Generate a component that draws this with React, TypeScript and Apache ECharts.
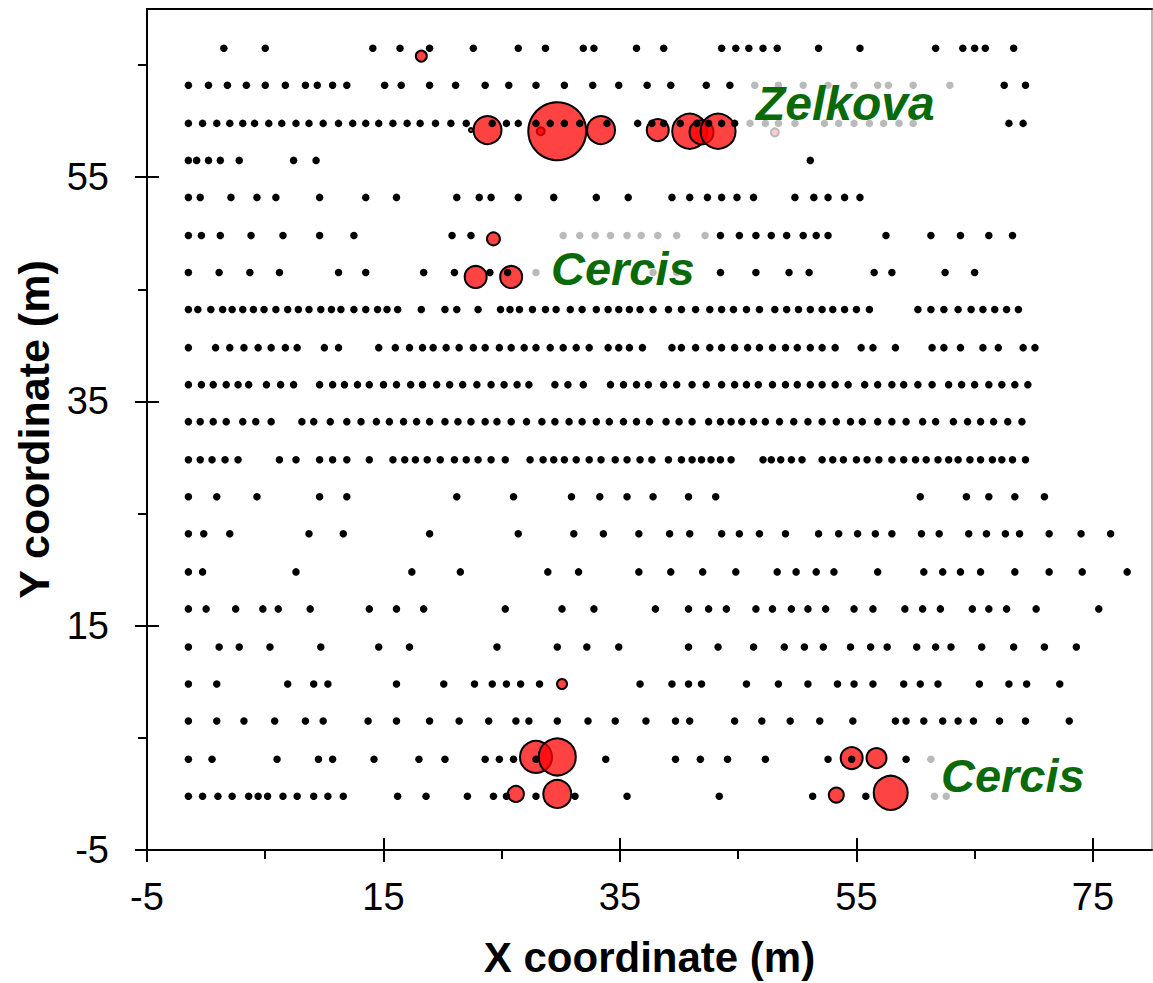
import React, { useEffect, useRef } from "react";
import * as echarts from "echarts";

// Stem map: row positions (m) and the x positions (m) of every stem in each row
const ROW_Y = [66.5, 63.2, 59.8, 56.5, 53.2, 49.8, 46.5, 43.2, 39.8, 36.5, 33.2, 29.8, 26.5, 23.2, 19.8, 16.5, 13.1, 9.8, 6.5, 3.1, -0.2];

const ROW_X: number[][] = [
  [1.5, 5.0, 14.1, 16.4, 18.9, 22.6, 26.4, 28.7, 31.9, 32.8, 36.4, 38.7, 43.6, 44.8, 45.9, 47.1, 48.3, 51.8, 55.3, 61.7, 64.0, 65.0, 65.9, 68.3],
  [-1.5, 0.2, 1.8, 3.4, 5.0, 6.7, 8.4, 9.4, 10.7, 11.9, 15.1, 16.5, 18.9, 21.1, 23.6, 25.6, 27.9, 30.3, 32.7, 34.9, 37.3, 39.3, 42.3, 44.3, 46.4, 48.4, 50.5, 52.6, 54.8, 56.8, 57.7, 59.8, 62.9, 67.5, 69.3],
  [-1.5, -0.3, 0.9, 2.0, 3.1, 4.1, 5.3, 6.4, 7.6, 8.7, 9.9, 11.2, 12.4, 13.5, 14.6, 15.8, 17.0, 18.1, 19.4, 20.7, 22.0, 24.2, 25.4, 26.4, 27.9, 29.1, 30.3, 31.6, 33.9, 36.5, 37.7, 38.7, 40.1, 41.5, 42.5, 43.6, 44.7, 46.0, 47.3, 48.4, 49.8, 52.3, 53.5, 54.8, 56.1, 57.3, 58.6, 59.8, 67.9, 69.1],
  [-1.5, -0.8, 0.2, 1.2, 2.8, 7.4, 9.3, 51.1],
  [-1.5, -0.5, 2.1, 4.3, 5.9, 9.6, 13.5, 16.1, 21.2, 23.1, 24.1, 26.4, 29.4, 33.0, 35.7, 39.4, 40.9, 42.4, 43.6, 44.9, 46.3, 49.8, 51.4, 52.6, 54.0, 55.3],
  [-1.5, -0.4, 1.2, 3.8, 6.5, 9.6, 12.5, 20.8, 22.4, 30.2, 31.6, 32.9, 34.2, 35.6, 36.8, 38.2, 39.8, 42.2, 43.5, 45.1, 46.5, 47.8, 49.1, 50.5, 51.6, 52.6, 57.5, 61.3, 63.8, 66.2, 68.2],
  [-1.5, 1.1, 3.7, 6.2, 11.2, 13.5, 18.4, 21.0, 24.0, 25.5, 27.9, 37.8, 39.8, 43.5, 46.5, 49.3, 51.0, 56.5, 58.0, 62.5, 65.0],
  [-1.5, -0.7, 0.4, 1.4, 2.2, 3.1, 4.0, 4.9, 5.9, 6.9, 7.8, 8.7, 9.7, 10.6, 11.4, 12.5, 13.5, 14.5, 15.3, 16.2, 18.2, 20.2, 21.2, 23.0, 24.9, 25.7, 26.5, 27.6, 28.7, 29.6, 30.8, 31.8, 33.0, 34.0, 34.9, 35.8, 36.7, 37.8, 39.1, 40.2, 41.4, 42.6, 43.6, 44.6, 45.7, 46.8, 48.1, 49.1, 50.1, 51.1, 52.1, 53.0, 54.0, 55.0, 56.1, 60.2, 61.3, 62.4, 63.6, 64.7, 65.7, 66.7, 67.7, 68.7],
  [-1.5, 0.8, 2.0, 3.2, 4.4, 5.5, 6.7, 7.7, 10.0, 11.2, 14.6, 16.0, 17.2, 18.3, 19.2, 20.3, 21.4, 22.6, 23.6, 24.8, 25.8, 26.9, 27.9, 29.1, 30.2, 31.3, 32.4, 34.0, 34.9, 35.8, 36.9, 39.4, 40.2, 41.4, 42.6, 43.6, 44.7, 45.8, 46.8, 47.9, 49.0, 50.0, 51.1, 52.1, 53.2, 55.4, 56.4, 58.3, 61.4, 62.4, 63.8, 65.7, 67.0, 69.1, 70.1],
  [-1.5, -0.4, 0.6, 1.7, 2.7, 3.6, 5.1, 6.3, 7.4, 9.6, 10.7, 11.7, 12.8, 13.8, 15.0, 16.1, 17.3, 18.3, 19.5, 20.6, 21.7, 22.9, 24.1, 25.2, 26.3, 27.3, 29.5, 30.6, 31.9, 34.2, 35.3, 36.4, 37.4, 38.7, 39.8, 41.1, 42.3, 43.6, 44.7, 45.7, 46.7, 47.9, 49.0, 50.0, 51.1, 52.1, 53.2, 54.3, 55.7, 56.8, 58.0, 59.0, 60.2, 61.4, 62.8, 63.9, 65.0, 66.2, 67.3, 68.4, 69.5],
  [-1.5, -0.5, 0.6, 1.7, 3.1, 4.2, 5.5, 8.1, 9.1, 10.5, 11.9, 13.1, 14.4, 15.5, 16.7, 17.8, 18.9, 20.2, 21.3, 22.4, 23.6, 24.6, 25.8, 27.1, 28.4, 29.5, 30.7, 31.8, 33.0, 34.1, 35.3, 36.4, 37.5, 38.9, 40.0, 41.1, 42.5, 43.5, 44.4, 45.3, 46.3, 47.3, 48.5, 49.7, 50.9, 52.1, 53.3, 54.5, 55.5, 56.8, 58.0, 59.2, 60.6, 61.7, 63.2, 64.4, 65.5, 66.6, 67.8, 69.0],
  [-1.5, -0.5, 0.5, 1.6, 2.7, 6.2, 7.6, 9.6, 10.7, 11.9, 13.8, 15.8, 16.8, 17.7, 18.7, 19.8, 21.0, 22.0, 23.0, 24.1, 25.3, 27.4, 28.5, 29.4, 30.3, 31.3, 32.4, 33.4, 34.6, 35.6, 36.7, 37.7, 39.1, 40.2, 41.1, 41.9, 42.7, 43.5, 44.4, 47.1, 47.8, 48.6, 49.5, 50.4, 52.1, 53.0, 53.9, 55.0, 55.9, 56.9, 58.0, 59.0, 60.0, 60.9, 61.9, 62.8, 63.6, 64.6, 65.5, 66.5, 67.3, 68.2, 69.3],
  [-1.5, 0.9, 4.3, 9.6, 11.9, 21.2, 26.0, 30.9, 33.3, 35.6, 37.8, 40.8, 43.1, 60.4, 64.3, 66.2, 68.4, 70.9],
  [-1.5, -0.2, 2.0, 8.7, 11.6, 18.9, 26.4, 31.1, 33.6, 36.6, 39.2, 40.9, 43.6, 45.1, 46.8, 49.0, 51.8, 53.5, 55.1, 56.6, 58.0, 60.5, 62.0, 64.5, 66.0, 67.6, 68.8, 71.3, 74.0, 76.5],
  [-1.5, -0.3, 7.6, 17.4, 21.5, 28.9, 31.5, 36.6, 39.3, 42.0, 44.8, 48.3, 49.9, 51.6, 53.1, 56.8, 60.7, 62.3, 63.8, 65.5, 68.4, 71.3, 74.1, 77.9],
  [-1.5, 0.0, 2.5, 4.8, 6.1, 8.8, 13.8, 16.1, 18.4, 25.3, 30.1, 32.8, 38.0, 40.8, 42.5, 44.0, 46.5, 47.9, 49.5, 50.9, 52.4, 54.8, 56.4, 59.1, 60.6, 62.1, 64.8, 66.2, 67.7, 70.2, 75.5],
  [-1.5, 1.1, 2.8, 5.4, 9.7, 14.6, 17.2, 24.6, 29.7, 32.2, 34.9, 40.8, 43.3, 46.3, 48.9, 50.6, 52.2, 54.5, 56.2, 57.6, 60.1, 61.7, 63.0, 65.6, 68.3, 70.9, 73.6],
  [-1.5, 0.9, 6.9, 9.1, 10.3, 16.1, 20.1, 22.7, 24.2, 25.4, 26.6, 28.2, 36.7, 39.4, 40.8, 41.9, 45.7, 48.4, 50.9, 53.4, 54.8, 56.4, 59.0, 60.4, 61.9, 65.4, 67.9, 69.4, 72.2],
  [-1.5, 0.9, 3.2, 5.8, 8.4, 9.9, 13.7, 16.1, 18.9, 21.4, 23.9, 26.2, 27.3, 29.7, 32.3, 34.6, 37.2, 39.7, 40.9, 44.7, 47.0, 49.4, 51.9, 54.7, 58.3, 59.2, 60.7, 62.3, 63.6, 64.9, 67.1, 69.3, 73.0],
  [-1.5, 0.5, 6.0, 9.5, 10.7, 14.2, 18.0, 20.2, 23.6, 24.8, 26.0, 27.9, 33.8, 39.7, 41.8, 44.1, 47.3, 52.6, 54.6, 59.2, 61.3],
  [-1.5, -0.3, 1.0, 2.2, 3.6, 4.4, 5.2, 6.5, 7.7, 9.1, 10.3, 11.6, 16.2, 18.6, 22.1, 24.3, 25.4, 27.9, 31.2, 35.6, 43.4, 51.3, 55.8, 61.6, 62.6],
];

// Highlighted trees: position (m) and stem diameter (cm)
const TREE_X = [18.2, 22.4, 23.8, 28.3, 29.7, 33.4, 38.2, 40.9, 41.9, 43.3, 48.1, 24.3, 22.8, 25.8, 30.1, 27.9, 29.7, 54.6, 56.7, 26.2, 29.7, 53.3, 57.9];
const TREE_Y = [65.8, 59.2, 59.2, 59.1, 59.1, 59.2, 59.2, 59.1, 59.0, 59.1, 59.0, 49.5, 46.1, 46.1, 9.8, 3.3, 3.3, 3.2, 3.2, 0.0, 0.0, -0.1, 0.1];
const TREE_DBH = [11, 4, 28, 8, 58, 28, 22, 35, 24, 35, 8, 13, 22, 22, 10, 32, 37, 22, 20, 16, 28, 15, 34];

const X_MAJOR = [-5, 15, 35, 55, 75];
const X_MINOR = [5, 25, 45, 65];
const Y_MAJOR = [-5, 15, 35, 55];
const Y_MINOR = [5, 25, 45, 65];

const FONT = '"Liberation Sans", Arial, Helvetica, sans-serif';
const GREEN = "#0a6a0a";

function tickAxis(extra: any) {
  return {
    type: "value",
    splitLine: { show: false },
    axisLine: { show: false, onZero: false },
    axisLabel: { show: false },
    ...extra,
  };
}

export default function App() {
  const ref = useRef<HTMLDivElement>(null);

  useEffect(() => {
    if (!ref.current) return;
    const chart = echarts.init(ref.current, undefined, { renderer: "svg" });

    const stems: number[][] = [];
    ROW_Y.forEach((y, i) => ROW_X[i].forEach((x) => stems.push([x, y])));
    const trees = TREE_X.map((x, i) => [x, TREE_Y[i], TREE_DBH[i]]);

    const xRange = { min: -5, max: 80 };
    const yRange = { min: -5, max: 70 };
    const tickLine = { color: "#000", width: 2 };

    const labelBox = (x: number, y: number, w: number, h: number) => ({
      type: "rect",
      z: 100,
      shape: { x, y, width: w, height: h },
      style: { fill: "rgba(255,255,255,0.73)" },
    });
    const species = (text: string, x: number, y: number, size: number) => ({
      type: "text",
      z: 101,
      x,
      y,
      style: {
        text,
        fontSize: size,
        fontWeight: "bold",
        fontStyle: "italic",
        fontFamily: FONT,
        fill: GREEN,
        align: "left",
        verticalAlign: "middle",
      },
    });

    chart.setOption({
      animation: false,
      backgroundColor: "#fff",
      grid: { left: 147, right: 1, top: 9, bottom: 130, containLabel: false },
      xAxis: [
        {
          type: "value",
          ...xRange,
          position: "bottom",
          splitLine: { show: false },
          axisLine: { show: true, onZero: false, lineStyle: { color: "#000", width: 2 } },
          axisTick: { show: true, inside: false, length: 12, customValues: X_MAJOR, lineStyle: tickLine },
          axisLabel: { customValues: X_MAJOR, fontSize: 38, color: "#000", fontFamily: FONT, margin: 28 },
          name: "X coordinate (m)",
          nameLocation: "middle",
          nameGap: 86,
          nameTextStyle: { fontSize: 42, fontWeight: "bold", color: "#000", fontFamily: FONT },
        },
        tickAxis({ ...xRange, position: "bottom", axisTick: { show: true, inside: true, length: 12, customValues: [15, 35, 55, 75], lineStyle: tickLine } }),
        tickAxis({ ...xRange, position: "bottom", axisTick: { show: true, inside: false, length: 9, customValues: X_MINOR, lineStyle: tickLine } }),
        tickAxis({ ...xRange, position: "top", axisTick: { show: false }, axisLine: { show: true, onZero: false, lineStyle: { color: "#000", width: 2 } } }),
      ],
      yAxis: [
        {
          type: "value",
          ...yRange,
          position: "left",
          splitLine: { show: false },
          axisLine: { show: true, onZero: false, lineStyle: { color: "#000", width: 2 } },
          axisTick: { show: true, inside: false, length: 12, customValues: Y_MAJOR, lineStyle: tickLine },
          axisLabel: { customValues: Y_MAJOR, fontSize: 38, color: "#000", fontFamily: FONT, margin: 38 },
          name: "Y coordinate (m)",
          nameLocation: "middle",
          nameGap: 91,
          nameTextStyle: { fontSize: 43, fontWeight: "bold", color: "#000", fontFamily: FONT },
        },
        tickAxis({ ...yRange, position: "left", axisTick: { show: true, inside: true, length: 12, customValues: [15, 35, 55], lineStyle: tickLine } }),
        tickAxis({ ...yRange, position: "left", axisTick: { show: true, inside: false, length: 9, customValues: Y_MINOR, lineStyle: tickLine } }),
        tickAxis({ ...yRange, position: "right", axisTick: { show: false }, axisLine: { show: true, onZero: false, lineStyle: { color: "#a0a0a0", width: 1.5 } } }),
      ],
      series: [
        {
          name: "trees",
          type: "scatter",
          xAxisIndex: 0,
          yAxisIndex: 0,
          data: trees,
          symbol: "circle",
          symbolSize: (v: number[]) => v[2],
          itemStyle: { color: "rgba(255,0,0,0.74)", borderColor: "#000", borderWidth: 2, opacity: 1 },
          z: 2,
        },
        {
          name: "stems",
          type: "scatter",
          xAxisIndex: 0,
          yAxisIndex: 0,
          data: stems,
          symbol: "circle",
          symbolSize: 7.5,
          itemStyle: { color: "#000", opacity: 1 },
          z: 3,
        },
      ],
      graphic: [
        labelBox(745, 70, 215, 70),
        labelBox(528, 224, 184, 74),
        labelBox(918, 740, 175, 78),
        species("Zelkova", 756, 103, 48),
        species("Cercis", 551, 268, 47),
        species("Cercis", 941, 775, 47),
      ],
    });

    return () => chart.dispose();
  }, []);

  return <div ref={ref} style={{ position: "fixed", left: 0, top: 0, width: 1153, height: 983 }} />;
}
